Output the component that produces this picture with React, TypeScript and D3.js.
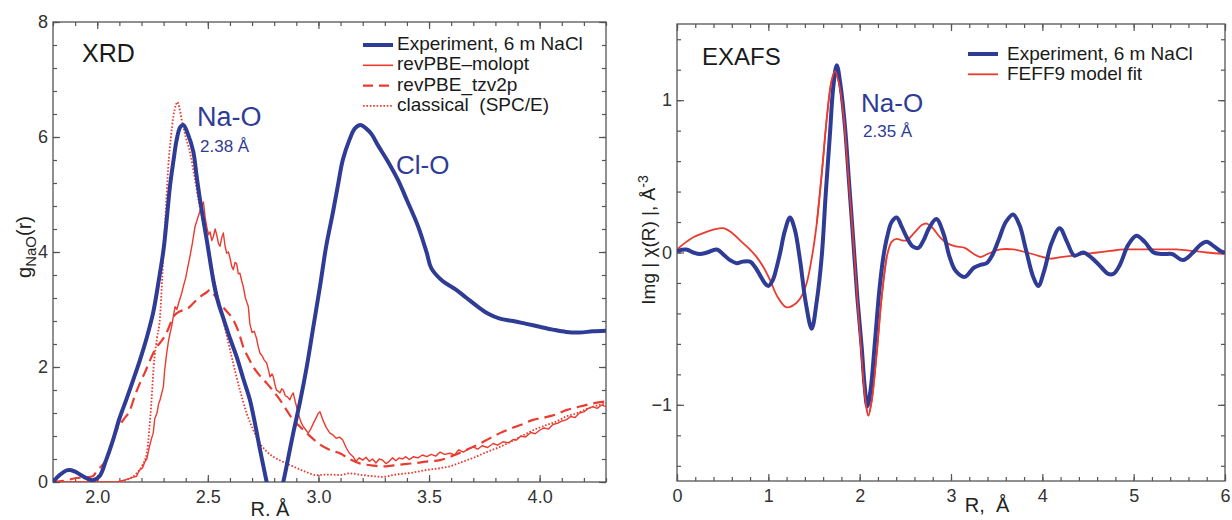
import React, { useEffect, useRef } from 'react';
import * as d3 from 'd3';

type Pt = [number, number];

// XRD, g_NaO(r) vs R
const xrdExperiment: Pt[] = [
  [1.80, 0.0], [1.83, 0.12], [1.86, 0.2], [1.877, 0.21], [1.90, 0.18], [1.94, 0.09], [1.98, 0.03],
  [2.01, 0.1], [2.04, 0.38], [2.073, 0.75], [2.10, 1.1], [2.133, 1.45], [2.163, 1.78], [2.193, 2.12],
  [2.223, 2.5], [2.253, 2.95], [2.28, 3.55], [2.30, 4.05], [2.315, 4.6], [2.329, 5.15], [2.345, 5.6],
  [2.359, 5.95], [2.375, 6.17], [2.389, 6.21], [2.41, 6.05], [2.434, 5.75], [2.45, 5.3], [2.465, 4.9],
  [2.48, 4.55], [2.495, 4.21], [2.51, 3.85], [2.525, 3.5], [2.545, 3.15], [2.57, 2.85], [2.60, 2.5],
  [2.63, 2.18], [2.66, 1.8], [2.69, 1.43], [2.715, 0.98], [2.736, 0.56], [2.766, 0.0], [2.80, -0.6],
  [2.841, 0.0], [2.865, 0.45], [2.886, 0.85], [2.917, 1.4], [2.947, 2.0], [2.977, 2.7], [3.007, 3.4],
  [3.035, 4.1], [3.066, 4.7], [3.09, 5.2], [3.11, 5.6], [3.14, 5.95], [3.165, 6.15], [3.19, 6.21],
  [3.215, 6.15], [3.24, 6.05], [3.27, 5.85], [3.31, 5.6], [3.36, 5.25], [3.40, 4.9], [3.45, 4.45],
  [3.49, 3.98], [3.51, 3.72], [3.56, 3.5], [3.62, 3.35], [3.67, 3.2], [3.72, 3.05], [3.77, 2.92],
  [3.82, 2.84], [3.88, 2.8], [3.94, 2.75], [4.0, 2.7], [4.06, 2.65], [4.12, 2.61], [4.18, 2.6],
  [4.24, 2.62], [4.30, 2.63],
];

const xrdMolopt: Pt[] = [
  [1.8, 0], [2.0, 0], [2.09, 0.0], [2.13, 0.04], [2.16, 0.08], [2.178, 0.1], [2.19, 0.2], [2.205, 0.25],
  [2.215, 0.35], [2.224, 0.4], [2.235, 0.6], [2.245, 0.75], [2.253, 0.85], [2.26, 1.1], [2.27, 1.2],
  [2.277, 1.35], [2.284, 1.43], [2.292, 1.55], [2.299, 1.66], [2.305, 1.95], [2.314, 2.24], [2.322, 2.45],
  [2.33, 2.6], [2.337, 2.72], [2.345, 2.9], [2.352, 3.05], [2.36, 3.0], [2.367, 3.1], [2.375, 3.2],
  [2.383, 3.3], [2.389, 3.4], [2.40, 3.55], [2.41, 3.75], [2.419, 3.92], [2.43, 4.15], [2.442, 4.44],
  [2.455, 4.6], [2.468, 4.75], [2.48, 4.87], [2.488, 4.6], [2.495, 4.44], [2.503, 4.3], [2.51, 4.35],
  [2.518, 4.2], [2.525, 4.27], [2.533, 4.4], [2.54, 4.3], [2.548, 4.15], [2.555, 4.1], [2.563, 4.25],
  [2.57, 4.33], [2.578, 4.1], [2.585, 3.98], [2.593, 4.0], [2.6, 3.9], [2.608, 3.75], [2.615, 3.69],
  [2.623, 3.82], [2.63, 3.8], [2.638, 3.62], [2.645, 3.63], [2.653, 3.5], [2.66, 3.4], [2.67, 3.2],
  [2.683, 3.05], [2.69, 2.75], [2.7, 2.6], [2.71, 2.62], [2.72, 2.5], [2.728, 2.35], [2.736, 2.24],
  [2.745, 2.2], [2.755, 2.12], [2.766, 2.07], [2.774, 1.95], [2.781, 1.83], [2.79, 1.88], [2.796, 1.83],
  [2.803, 1.7], [2.81, 1.6], [2.818, 1.58], [2.826, 1.55], [2.834, 1.62], [2.841, 1.6], [2.85, 1.5],
  [2.86, 1.48], [2.871, 1.43], [2.878, 1.5], [2.886, 1.55], [2.895, 1.4], [2.909, 1.19], [2.92, 1.05],
  [2.932, 0.96], [2.944, 0.9], [2.954, 0.85], [2.965, 0.92], [2.977, 1.02], [2.99, 1.12], [3.0, 1.2],
  [3.007, 1.22], [3.02, 1.08], [3.035, 0.95], [3.052, 0.85], [3.065, 0.82], [3.08, 0.76], [3.095, 0.78],
  [3.11, 0.73], [3.125, 0.6], [3.14, 0.5], [3.157, 0.44], [3.17, 0.36], [3.185, 0.42], [3.2, 0.38],
  [3.215, 0.43], [3.23, 0.36], [3.245, 0.4], [3.26, 0.33], [3.275, 0.4], [3.29, 0.38], [3.305, 0.32],
  [3.32, 0.36], [3.335, 0.42], [3.35, 0.37], [3.365, 0.42], [3.38, 0.4], [3.395, 0.44], [3.41, 0.39],
  [3.43, 0.44], [3.45, 0.42], [3.47, 0.47], [3.49, 0.44], [3.51, 0.48], [3.53, 0.45], [3.55, 0.52],
  [3.57, 0.48], [3.595, 0.5], [3.615, 0.47], [3.635, 0.56], [3.655, 0.52], [3.68, 0.58], [3.70, 0.61],
  [3.72, 0.57], [3.74, 0.63], [3.765, 0.6], [3.79, 0.67], [3.81, 0.64], [3.835, 0.7], [3.86, 0.68],
  [3.88, 0.74], [3.896, 0.73], [3.915, 0.8], [3.935, 0.78], [3.96, 0.86], [3.98, 0.84], [4.0, 0.9],
  [4.02, 0.94], [4.04, 0.92], [4.06, 1.0], [4.08, 1.02], [4.1, 1.06], [4.12, 1.08], [4.14, 1.14],
  [4.16, 1.12], [4.18, 1.2], [4.2, 1.22], [4.22, 1.28], [4.24, 1.31], [4.26, 1.28], [4.28, 1.34], [4.3, 1.31],
];

const xrdTzv2p: Pt[] = [
  [1.8, 0.0], [1.85, 0.02], [1.907, 0.07], [1.95, 0.08], [1.98, 0.1], [2.0, 0.2], [2.02, 0.28], [2.043, 0.4],
  [2.065, 0.65], [2.088, 0.9], [2.118, 1.08], [2.148, 1.25], [2.17, 1.5], [2.193, 1.72], [2.215, 1.9],
  [2.239, 2.12], [2.269, 2.35], [2.29, 2.45], [2.314, 2.6], [2.33, 2.75], [2.344, 2.87], [2.365, 2.95],
  [2.389, 2.99], [2.41, 3.02], [2.434, 3.11], [2.465, 3.22], [2.495, 3.3], [2.51, 3.34], [2.53, 3.25],
  [2.555, 3.11], [2.585, 2.97], [2.615, 2.82], [2.64, 2.6], [2.66, 2.35], [2.685, 2.15], [2.706, 2.0],
  [2.735, 1.85], [2.766, 1.72], [2.796, 1.58], [2.826, 1.43], [2.856, 1.25], [2.886, 1.08], [2.917, 0.96],
  [2.947, 0.85], [2.976, 0.75], [3.007, 0.65], [3.05, 0.56], [3.097, 0.5], [3.14, 0.4], [3.19, 0.32],
  [3.24, 0.29], [3.29, 0.27], [3.34, 0.29], [3.39, 0.31], [3.44, 0.33], [3.5, 0.36], [3.55, 0.38],
  [3.61, 0.46], [3.67, 0.56], [3.72, 0.65], [3.77, 0.75], [3.82, 0.85], [3.87, 0.93], [3.92, 1.0],
  [3.97, 1.08], [4.02, 1.12], [4.07, 1.17], [4.12, 1.25], [4.17, 1.3], [4.22, 1.35], [4.26, 1.38], [4.3, 1.40],
];

const xrdClassical: Pt[] = [
  [1.8, 0.0], [2.0, 0.0], [2.09, 0.0], [2.14, 0.05], [2.178, 0.15], [2.205, 0.3], [2.224, 0.5], [2.235, 0.9],
  [2.245, 1.4], [2.255, 2.0], [2.27, 2.5], [2.284, 2.87], [2.293, 3.5], [2.30, 4.03], [2.311, 4.8],
  [2.321, 5.48], [2.333, 6.0], [2.344, 6.35], [2.355, 6.55], [2.362, 6.61], [2.372, 6.5], [2.382, 6.3],
  [2.40, 6.0], [2.42, 5.72], [2.44, 5.3], [2.46, 4.85], [2.48, 4.5], [2.495, 4.21], [2.525, 3.6],
  [2.555, 3.05], [2.585, 2.55], [2.615, 2.06], [2.645, 1.6], [2.676, 1.19], [2.706, 0.9], [2.736, 0.67],
  [2.766, 0.53], [2.796, 0.44], [2.84, 0.35], [2.886, 0.27], [2.94, 0.18], [2.99, 0.12], [3.05, 0.13],
  [3.1, 0.12], [3.14, 0.15], [3.2, 0.12], [3.25, 0.1], [3.29, 0.09], [3.35, 0.13], [3.42, 0.16],
  [3.49, 0.21], [3.55, 0.24], [3.6, 0.28], [3.65, 0.35], [3.7, 0.42], [3.76, 0.52], [3.82, 0.61],
  [3.88, 0.72], [3.93, 0.82], [3.97, 0.9], [4.03, 0.99], [4.08, 1.06], [4.12, 1.14], [4.17, 1.2],
  [4.22, 1.28], [4.26, 1.33], [4.3, 1.37],
];

// EXAFS, Img|chi(R)| vs R
const exafsExperiment: Pt[] = [
  [0, 0.01], [0.1, 0.02], [0.18, 0.0], [0.25, -0.01], [0.33, 0.0], [0.435, 0.02], [0.52, -0.02],
  [0.58, -0.05], [0.654, -0.07], [0.72, -0.06], [0.80, -0.06], [0.86, -0.1], [0.91, -0.15], [0.96, -0.2],
  [1.0, -0.22], [1.05, -0.18], [1.09, -0.1], [1.13, 0.0], [1.18, 0.14], [1.237, 0.23], [1.29, 0.15],
  [1.347, -0.05], [1.41, -0.33], [1.475, -0.50], [1.53, -0.32], [1.584, -0.03], [1.63, 0.4], [1.675, 0.78],
  [1.71, 1.08], [1.749, 1.23], [1.79, 1.1], [1.84, 0.82], [1.885, 0.45], [1.93, 0.08], [1.975, -0.3],
  [2.022, -0.62], [2.055, -0.88], [2.084, -1.01], [2.12, -0.9], [2.168, -0.58], [2.215, -0.25],
  [2.259, -0.03], [2.3, 0.1], [2.35, 0.2], [2.405, 0.23], [2.46, 0.17], [2.515, 0.1], [2.58, 0.04],
  [2.643, 0.03], [2.7, 0.08], [2.76, 0.16], [2.84, 0.22], [2.92, 0.12], [2.98, -0.02], [3.05, -0.12],
  [3.15, -0.16], [3.25, -0.1], [3.33, -0.08], [3.39, -0.07], [3.45, -0.02], [3.52, 0.08], [3.6, 0.2],
  [3.68, 0.25], [3.75, 0.18], [3.82, 0.02], [3.9, -0.16], [3.955, -0.22], [4.02, -0.12], [4.1, 0.06],
  [4.19, 0.16], [4.27, 0.07], [4.35, -0.02], [4.45, 0.0], [4.55, -0.04], [4.65, -0.1], [4.72, -0.14],
  [4.78, -0.14], [4.85, -0.08], [4.94, 0.05], [5.03, 0.11], [5.12, 0.07], [5.22, 0.0], [5.33, -0.01],
  [5.42, -0.01], [5.54, -0.05], [5.65, 0.0], [5.73, 0.05], [5.80, 0.07], [5.88, 0.04], [5.95, 0.01], [6.0, 0.0],
];

const exafsFeff: Pt[] = [
  [0, 0.02], [0.08, 0.06], [0.18, 0.1], [0.3, 0.13], [0.4, 0.15], [0.507, 0.16], [0.6, 0.13], [0.69, 0.08],
  [0.78, 0.03], [0.873, -0.03], [0.95, -0.1], [1.018, -0.18], [1.1, -0.29], [1.2, -0.36], [1.31, -0.33],
  [1.37, -0.28], [1.42, -0.2], [1.48, -0.02], [1.53, 0.19], [1.59, 0.55], [1.64, 0.88], [1.69, 1.12],
  [1.73, 1.19], [1.77, 1.12], [1.82, 0.92], [1.87, 0.55], [1.93, 0.08], [1.98, -0.35], [2.03, -0.75],
  [2.065, -0.98], [2.095, -1.07], [2.13, -0.98], [2.187, -0.66], [2.24, -0.3], [2.296, -0.03], [2.35, 0.07],
  [2.405, 0.09], [2.46, 0.08], [2.515, 0.08], [2.6, 0.13], [2.68, 0.18], [2.734, 0.19], [2.8, 0.16],
  [2.88, 0.1], [2.96, 0.06], [3.05, 0.04], [3.15, 0.03], [3.25, -0.01], [3.32, -0.03], [3.4, -0.01],
  [3.54, 0.02], [3.68, 0.02], [3.83, 0.0], [3.95, -0.02], [4.08, -0.04], [4.2, -0.03], [4.35, -0.02],
  [4.45, -0.01], [4.6, 0.0], [4.74, 0.01], [4.9, 0.02], [5.1, 0.02], [5.3, 0.02], [5.47, 0.02],
  [5.65, 0.01], [5.8, 0.0], [6.0, -0.01],
];

const xrdLegend = ['Experiment, 6 m NaCl', 'revPBE\u2013molopt', 'revPBE_tzv2p', 'classical  (SPC/E)'];
const exafsLegend = ['Experiment, 6 m NaCl', 'FEFF9 model fit'];

const xrdXTicks = [2.0, 2.5, 3.0, 3.5, 4.0];
const xrdYTicks = [0, 2, 4, 6, 8];
const exafsXTicks = [0, 1, 2, 3, 4, 5, 6];
const exafsYTicks = [-1, 0, 1];

const BLUE = '#2f3c96';
const RED = '#ea3b30';
const FONT = '"Liberation Sans", Arial, Helvetica, sans-serif';

const App = () => {
  const svgRef = useRef<SVGSVGElement>(null);

  useEffect(() => {
    const svg = d3.select(svgRef.current);
    svg.selectAll('*').remove();

    const drawFrame = (id, x, y, xMajor, yMajor, xMinor, yMinor, xFmt, yFmt) => {
      const [x0, x1] = x.range();
      const [y0, y1] = y.range();
      const g = svg.append('g');

      const style = (sel) => {
        sel.select('.domain').remove();
        sel.selectAll('line').attr('stroke', '#555').attr('stroke-width', 1.2);
        sel.selectAll('text').attr('fill', '#333').style('font-family', FONT).style('font-size', '18px');
      };

      // major / minor, all four sides, ticks pointing inward
      g.append('g').attr('transform', `translate(0,${y0})`)
        .call(d3.axisBottom(x).tickValues(xMajor).tickSize(-7).tickPadding(8).tickFormat(xFmt)).call(style);
      g.append('g').attr('transform', `translate(0,${y0})`)
        .call(d3.axisBottom(x).tickValues(xMinor).tickSize(-4).tickFormat(() => '')).call(style);
      g.append('g').attr('transform', `translate(0,${y1})`)
        .call(d3.axisTop(x).tickValues(xMajor).tickSize(-7).tickFormat(() => '')).call(style);
      g.append('g').attr('transform', `translate(0,${y1})`)
        .call(d3.axisTop(x).tickValues(xMinor).tickSize(-4).tickFormat(() => '')).call(style);
      g.append('g').attr('transform', `translate(${x0},0)`)
        .call(d3.axisLeft(y).tickValues(yMajor).tickSize(-7).tickPadding(5).tickFormat(yFmt)).call(style);
      g.append('g').attr('transform', `translate(${x0},0)`)
        .call(d3.axisLeft(y).tickValues(yMinor).tickSize(-4).tickFormat(() => '')).call(style);
      g.append('g').attr('transform', `translate(${x1},0)`)
        .call(d3.axisRight(y).tickValues(yMajor).tickSize(-7).tickFormat(() => '')).call(style);
      g.append('g').attr('transform', `translate(${x1},0)`)
        .call(d3.axisRight(y).tickValues(yMinor).tickSize(-4).tickFormat(() => '')).call(style);

      g.append('rect')
        .attr('x', x0).attr('y', y1).attr('width', x1 - x0).attr('height', y0 - y1)
        .attr('fill', 'none').attr('stroke', '#555').attr('stroke-width', 1.3);

      svg.append('clipPath').attr('id', id)
        .append('rect').attr('x', x0).attr('y', y1).attr('width', x1 - x0).attr('height', y0 - y1);
    };

    const drawLine = (id, x, y, data, color, width, dash, curve) => {
      const line = d3.line<Pt>().x((d) => x(d[0])).y((d) => y(d[1])).curve(curve);
      svg.append('path')
        .datum(data)
        .attr('clip-path', `url(#${id})`)
        .attr('d', line)
        .attr('fill', 'none')
        .attr('stroke', color)
        .attr('stroke-width', width)
        .attr('stroke-dasharray', dash)
        .attr('stroke-linejoin', 'round');
    };

    const text = (x, y, s, size, color, anchor = 'start') =>
      svg.append('text').attr('x', x).attr('y', y).text(s)
        .attr('fill', color).attr('text-anchor', anchor)
        .style('font-family', FONT).style('font-size', `${size}px`).style('white-space', 'pre');

    // ---------- left panel: XRD ----------
    const xL = d3.scaleLinear().domain([1.8, 4.3]).range([53, 606]);
    const yL = d3.scaleLinear().domain([0, 8]).range([482, 22]);
    drawFrame('clipL', xL, yL, xrdXTicks, xrdYTicks,
      d3.range(1.8, 4.31, 0.1).map((v) => +v.toFixed(2)),
      d3.range(0, 8.01, 0.4).map((v) => +v.toFixed(2)),
      d3.format('.1f'), d3.format('d'));

    drawLine('clipL', xL, yL, xrdClassical, RED, 1.8, '1.6,1.8', d3.curveMonotoneX);
    drawLine('clipL', xL, yL, xrdTzv2p, RED, 2.2, '11,6', d3.curveMonotoneX);
    drawLine('clipL', xL, yL, xrdMolopt, RED, 1.4, null, d3.curveLinear);
    drawLine('clipL', xL, yL, xrdExperiment, BLUE, 4, null, d3.curveCatmullRom);

    text(82, 62, 'XRD', 25, '#1a1a1a');
    text(197, 126, 'Na-O', 27, BLUE);
    text(200, 152, '2.38 Å', 17, BLUE);
    text(396, 174, 'Cl-O', 26, BLUE);

    const legL = [
      { c: BLUE, w: 4, d: null },
      { c: RED, w: 1.6, d: null },
      { c: RED, w: 2.2, d: '10,6' },
      { c: RED, w: 1.8, d: '1.6,1.8' },
    ];
    legL.forEach((s, i) => {
      const by = 50 + i * 20.3;
      svg.append('line').attr('x1', 363).attr('x2', 393).attr('y1', by - 5).attr('y2', by - 5)
        .attr('stroke', s.c).attr('stroke-width', s.w).attr('stroke-dasharray', s.d);
      text(397, by, xrdLegend[i], 19, '#1a1a1a');
    });

    const yl = svg.append('text')
      .attr('transform', 'translate(31,247) rotate(-90)')
      .attr('text-anchor', 'middle').attr('fill', '#222')
      .style('font-family', FONT).style('font-size', '20px');
    yl.append('tspan').text('g');
    yl.append('tspan').attr('dy', 5).style('font-size', '15px').text('NaO');
    yl.append('tspan').attr('dy', -5).text('(r)');

    text(270, 516, 'R. Å', 20, '#222', 'middle');

    // ---------- right panel: EXAFS ----------
    const xR = d3.scaleLinear().domain([0, 6]).range([677, 1225]);
    const yR = d3.scaleLinear().domain([-1.5, 1.5]).range([481, 24]);
    drawFrame('clipR', xR, yR, exafsXTicks, exafsYTicks,
      d3.range(0, 6.01, 0.2).map((v) => +v.toFixed(2)),
      d3.range(-1.4, 1.41, 0.2).map((v) => +v.toFixed(2)),
      d3.format('d'), (v) => (v < 0 ? `\u2212${Math.abs(v)}` : `${v}`));

    drawLine('clipR', xR, yR, exafsFeff, RED, 1.8, null, d3.curveCatmullRom);
    drawLine('clipR', xR, yR, exafsExperiment, BLUE, 4, null, d3.curveCatmullRom);
    // red fit drawn over again thin so it shows through on the big peaks
    drawLine('clipR', xR, yR, exafsFeff.filter((d) => d[0] > 1.5 && d[0] < 2.35), RED, 1.6, null, d3.curveCatmullRom);

    text(702, 65, 'EXAFS', 24, '#1a1a1a');
    text(861, 112, 'Na-O', 26, BLUE);
    text(863, 137, '2.35 Å', 17, BLUE);

    const legR = [{ c: BLUE, w: 4 }, { c: RED, w: 1.8 }];
    legR.forEach((s, i) => {
      const by = 60 + i * 20.3;
      svg.append('line').attr('x1', 968).attr('x2', 998).attr('y1', by - 6).attr('y2', by - 6)
        .attr('stroke', s.c).attr('stroke-width', s.w);
      text(1007, by, exafsLegend[i], 19, '#1a1a1a');
    });

    const yr = svg.append('text')
      .attr('transform', 'translate(655,240) rotate(-90)')
      .attr('text-anchor', 'middle').attr('fill', '#222')
      .style('font-family', FONT).style('font-size', '19px').style('white-space', 'pre');
    yr.append('tspan').text('Img | \u03c7(R) |, Å');
    yr.append('tspan').attr('dy', -7).style('font-size', '14px').text('-3');

    text(987, 512, 'R,  Å', 20, '#222', 'middle');
  }, []);

  return (
    <div className="container">
      <svg ref={svgRef} width={1232} height={520}
        style={{ position: 'absolute', left: 0, top: 0, background: '#fff' }} />
    </div>
  );
};

export default App;
